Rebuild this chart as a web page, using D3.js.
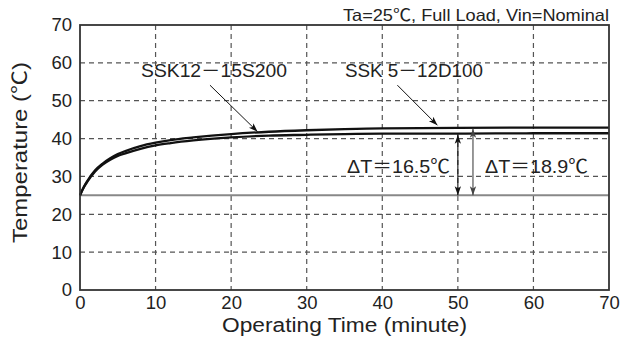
<!DOCTYPE html>
<html>
<head>
<meta charset="utf-8">
<script src="https://cdn.jsdelivr.net/npm/d3@7"></script>
<style>
  html, body { margin: 0; padding: 0; background: #fff; }
  svg { display: block; }
  text { font-family: "Liberation Sans", "Noto Sans CJK JP", sans-serif; fill: #222; }
</style>
</head>
<body>
<svg id="chart" width="621" height="338"></svg>
<script>
// ---- data ----
const minutes = [0, 0.5, 1, 2, 3, 4, 5, 6, 8, 10, 12, 15, 20, 25, 30, 35, 40, 50, 60, 70];
const ssk5_12D100 = [25, 27.2, 28.9, 31.6, 33.4, 34.8, 35.9, 36.7, 38.0, 38.9, 39.6, 40.3, 41.2, 41.8, 42.2, 42.5, 42.7, 42.8, 42.9, 42.9];
const ssk12_15S200 = [25, 27.1, 28.7, 31.3, 33.1, 34.4, 35.4, 36.1, 37.3, 38.2, 38.8, 39.5, 40.3, 40.8, 41.0, 41.2, 41.3, 41.3, 41.4, 41.4];
const ambient = 25;
const xTicks = [0, 10, 20, 30, 40, 50, 60, 70];
const yTicks = [0, 10, 20, 30, 40, 50, 60, 70];
const seriesLabels = ["SSK12－15S200", "SSK 5－12D100"];
const labelArrows = [ // [fromMin, fromTemp, toMin, toTemp]
  [17.2, 54.1, 23.5, 41.8],
  [42.0, 54.1, 47.3, 43.5]
];
const deltaArrows = [ // [minute, topTemp, bottomTemp]
  [50, 41.0, 25],
  [52, 42.6, 25]
];
const deltaLabels = ["ΔT＝16.5℃", "ΔT＝18.9℃"];
const titleText = "Ta=25℃, Full Load, Vin=Nominal";
const xTitle = "Operating Time (minute)";
const yTitle = "Temperature (℃)";

// ---- layout ----
const svg = d3.select("#chart");
const L = 80, R = 609, T = 25, B = 290;
const x = d3.scaleLinear().domain([0, 70]).range([L, R]);
const y = d3.scaleLinear().domain([0, 70]).range([B, T]);

const defs = svg.append("defs");
function marker(id, color) {
  defs.append("marker").attr("id", id)
    .attr("viewBox", "0 0 10 10").attr("refX", 10).attr("refY", 5)
    .attr("markerWidth", 9).attr("markerHeight", 9).attr("markerUnits", "userSpaceOnUse")
    .attr("orient", "auto-start-reverse")
    .append("path").attr("d", "M0,1.5 L10,5 L0,8.5 L2.5,5 Z").attr("fill", color);
}
marker("ah", "#111");
marker("ah2", "#444");

// grid
const g = svg.append("g");
g.selectAll(".vg").data(xTicks.filter(d => d > 0 && d < 70)).enter().append("line")
  .attr("x1", d => x(d)).attr("x2", d => x(d)).attr("y1", T).attr("y2", B)
  .attr("stroke", "#555").attr("stroke-width", 1.2).attr("stroke-dasharray", "5,4");
g.selectAll(".hg").data(yTicks.filter(d => d > 0 && d < 70)).enter().append("line")
  .attr("x1", L).attr("x2", R).attr("y1", d => y(d)).attr("y2", d => y(d))
  .attr("stroke", "#555").attr("stroke-width", 1.2).attr("stroke-dasharray", "5,4");

// ambient line
svg.append("line").attr("x1", x(0)).attr("x2", x(70)).attr("y1", y(ambient)).attr("y2", y(ambient))
  .attr("stroke", "#888").attr("stroke-width", 2);

// curves
const line = d3.line().x((d, i) => x(minutes[i])).y(d => y(d)).curve(d3.curveMonotoneX);
[ssk5_12D100, ssk12_15S200].forEach(s => {
  svg.append("path").attr("d", line(s)).attr("fill", "none")
    .attr("stroke", "#111").attr("stroke-width", 2.3);
});

// frame
svg.append("rect").attr("x", L).attr("y", T).attr("width", R - L).attr("height", B - T)
  .attr("fill", "none").attr("stroke", "#333").attr("stroke-width", 1.8);

// axes
const ax = svg.append("g").attr("transform", `translate(0,${B})`)
  .call(d3.axisBottom(x).tickValues(xTicks).tickSize(0).tickPadding(6));
ax.select(".domain").remove();
ax.selectAll("text").attr("font-size", 18.5).attr("fill", "#222")
  .attr("font-family", "Liberation Sans, sans-serif");
const ay = svg.append("g").attr("transform", `translate(${L},0)`)
  .call(d3.axisLeft(y).tickValues(yTicks).tickSize(0).tickPadding(8));
ay.select(".domain").remove();
ay.selectAll("text").attr("font-size", 18.5).attr("fill", "#222")
  .attr("font-family", "Liberation Sans, sans-serif");

// titles
svg.append("text").attr("x", 609).attr("y", 20.5).attr("text-anchor", "end")
  .attr("font-size", 16.5).attr("textLength", 266).attr("lengthAdjust", "spacingAndGlyphs")
  .text(titleText);
svg.append("text").attr("x", 222).attr("y", 332).attr("font-size", 20)
  .attr("textLength", 245).attr("lengthAdjust", "spacingAndGlyphs").text(xTitle);
svg.append("text").attr("transform", "translate(27,243) rotate(-90)").attr("font-size", 20)
  .attr("textLength", 181).attr("lengthAdjust", "spacingAndGlyphs").text(yTitle);

// series labels
const labelPos = [[141, 77, 146], [345, 77, 138]];
seriesLabels.forEach((t, i) => {
  svg.append("text").attr("x", labelPos[i][0]).attr("y", labelPos[i][1]).attr("font-size", 18.5)
    .attr("textLength", labelPos[i][2]).attr("lengthAdjust", "spacingAndGlyphs").text(t);
});
labelArrows.forEach(a => {
  svg.append("line").attr("x1", x(a[0])).attr("y1", y(a[1])).attr("x2", x(a[2])).attr("y2", y(a[3]))
    .attr("stroke", "#111").attr("stroke-width", 1).attr("marker-end", "url(#ah)");
});

// delta arrows
deltaArrows.forEach((a, i) => {
  svg.append("line").attr("x1", x(a[0])).attr("x2", x(a[0])).attr("y1", y(a[1])).attr("y2", y(a[2]))
    .attr("stroke", i === 0 ? "#111" : "#444").attr("stroke-width", 1.1)
    .attr("marker-start", `url(#${i === 0 ? "ah" : "ah2"})`)
    .attr("marker-end", `url(#${i === 0 ? "ah" : "ah2"})`);
});
const deltaPos = [[347, 173, 103], [485, 173, 103]];
deltaLabels.forEach((t, i) => {
  svg.append("text").attr("x", deltaPos[i][0]).attr("y", deltaPos[i][1]).attr("font-size", 19)
    .attr("textLength", deltaPos[i][2]).attr("lengthAdjust", "spacingAndGlyphs").text(t);
});
</script>
</body>
</html>
